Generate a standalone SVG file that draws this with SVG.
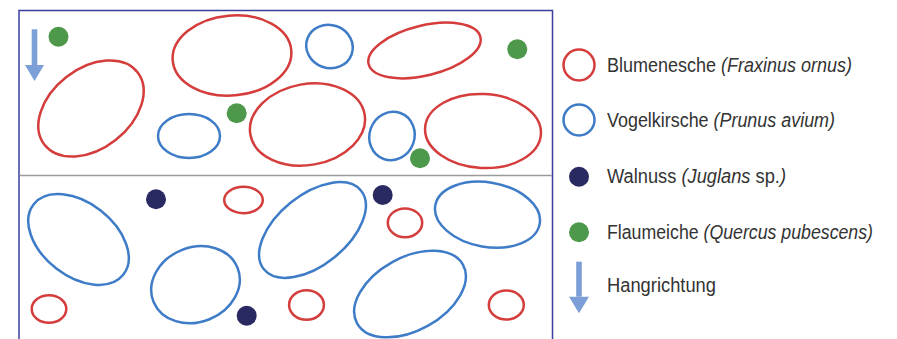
<svg xmlns="http://www.w3.org/2000/svg" width="897" height="339" viewBox="0 0 897 339">
<style>
.red{fill:none;stroke:#d43d3c;stroke-width:2.5}
.blue{fill:none;stroke:#3f7cc8;stroke-width:2.5}
.green{fill:#4e984b}
.navy{fill:#2a2a63}
.arrow{fill:#7b9fd6}
.lbl{font-family:"Liberation Sans",Arial,sans-serif;font-size:19.5px;fill:#333333}
.it{font-style:italic}
</style>
<rect width="897" height="339" fill="#ffffff"/>
<g id="frame">
<path d="M19 339 V10.5 H552.5 V339" fill="none" stroke="#3a3f9c" stroke-width="1.5"/>
<line x1="19.7" y1="175.5" x2="551.8" y2="175.5" stroke="#9a9a9a" stroke-width="1.5"/>
</g>
<g id="slope-arrow">
<rect x="31.7" y="29.3" width="5.6" height="36" class="arrow"/>
<polygon points="25,65 44,65 34.5,81" class="arrow"/>
</g>
<g id="upper-plot">
<ellipse cx="91" cy="108.5" rx="59" ry="40" transform="rotate(-38 91 108.5)" class="red"/>
<ellipse cx="232" cy="55.5" rx="59.5" ry="40" transform="rotate(-5 232 55.5)" class="red"/>
<ellipse cx="189" cy="136" rx="31" ry="22" class="blue"/>
<ellipse cx="307.5" cy="124.5" rx="58" ry="40.5" transform="rotate(-10 307.5 124.5)" class="red"/>
<ellipse cx="329.5" cy="46.5" rx="23.5" ry="21.5" transform="rotate(20 329.5 46.5)" class="blue"/>
<ellipse cx="424.5" cy="50.5" rx="57.5" ry="25" transform="rotate(-13.6 424.5 50.5)" class="red"/>
<ellipse cx="392" cy="136" rx="22.5" ry="24.5" transform="rotate(20 392 136)" class="blue"/>
<ellipse cx="483" cy="131" rx="58" ry="37" transform="rotate(3 483 131)" class="red"/>
<circle cx="58.5" cy="36.7" r="10" class="green"/>
<circle cx="236.7" cy="113.3" r="10" class="green"/>
<circle cx="517.3" cy="49.3" r="10" class="green"/>
<circle cx="420" cy="158.3" r="10" class="green"/>
</g>
<g id="lower-plot">
<ellipse cx="78.5" cy="239.5" rx="57" ry="36.5" transform="rotate(38 78.5 239.5)" class="blue"/>
<ellipse cx="243.5" cy="200" rx="19.3" ry="13.2" class="red"/>
<ellipse cx="49" cy="309" rx="17.3" ry="13.8" class="red"/>
<ellipse cx="195.5" cy="284.7" rx="45.3" ry="37.3" transform="rotate(-22 195.5 284.7)" class="blue"/>
<ellipse cx="312.5" cy="230" rx="62.5" ry="35" transform="rotate(-39 312.5 230)" class="blue"/>
<ellipse cx="405" cy="222.8" rx="17.2" ry="14.4" class="red"/>
<ellipse cx="487.5" cy="214.7" rx="53" ry="32.2" transform="rotate(10 487.5 214.7)" class="blue"/>
<ellipse cx="306.5" cy="305" rx="17.4" ry="14.8" class="red"/>
<ellipse cx="410" cy="294" rx="60.5" ry="36.5" transform="rotate(-29 410 294)" class="blue"/>
<ellipse cx="506.3" cy="305" rx="17.5" ry="14.5" class="red"/>
<circle cx="156" cy="199.3" r="10" class="navy"/>
<circle cx="246.7" cy="315.7" r="10" class="navy"/>
<circle cx="382.7" cy="195" r="10" class="navy"/>
</g>
<g id="legend-blumenesche">
<circle cx="579" cy="65" r="15.5" class="red"/>
<text x="607" y="72" class="lbl" textLength="245" lengthAdjust="spacingAndGlyphs">Blumenesche <tspan class="it">(Fraxinus ornus)</tspan></text>
</g>
<g id="legend-vogelkirsche">
<circle cx="579" cy="120" r="15.5" class="blue"/>
<text x="607" y="127" class="lbl" textLength="228" lengthAdjust="spacingAndGlyphs">Vogelkirsche <tspan class="it">(Prunus avium)</tspan></text>
</g>
<g id="legend-walnuss">
<circle cx="579" cy="176.7" r="10" class="navy"/>
<text x="607" y="183" class="lbl" textLength="179" lengthAdjust="spacingAndGlyphs">Walnuss <tspan class="it">(Juglans</tspan> sp.<tspan class="it">)</tspan></text>
</g>
<g id="legend-flaumeiche">
<circle cx="579" cy="232.3" r="10" class="green"/>
<text x="607" y="238.5" class="lbl" textLength="266" lengthAdjust="spacingAndGlyphs">Flaumeiche <tspan class="it">(Quercus pubescens)</tspan></text>
</g>
<g id="legend-hangrichtung">
<rect x="576.2" y="261.7" width="5.6" height="35" class="arrow"/>
<polygon points="569,296.7 589,296.7 579,313.3" class="arrow"/>
<text x="607" y="292" class="lbl" textLength="109" lengthAdjust="spacingAndGlyphs">Hangrichtung</text>
</g>
</svg>
